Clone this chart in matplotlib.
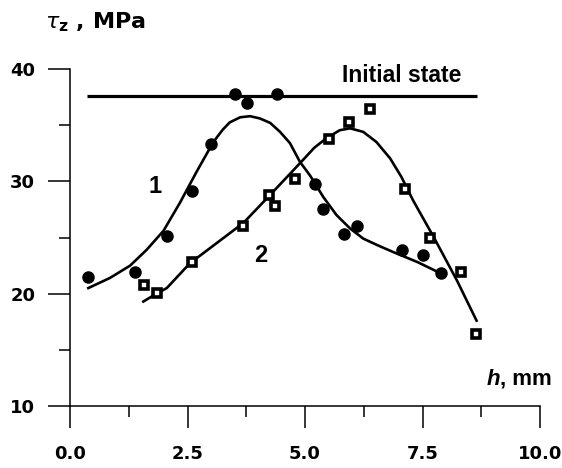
import matplotlib
matplotlib.use("Agg")
import matplotlib.pyplot as plt
from matplotlib.ticker import MultipleLocator, FixedLocator, FormatStrFormatter

# ---- data ----
h1 = [0.39, 1.38, 2.06, 2.59, 3.01, 3.51, 3.77, 4.40, 5.21, 5.39, 5.82, 6.10, 7.06, 7.50, 7.89]
tau1 = [21.5, 21.9, 25.1, 29.1, 33.3, 37.8, 37.0, 37.8, 29.8, 27.5, 25.3, 26.0, 23.9, 23.4, 21.8]

h2 = [1.57, 1.86, 2.59, 3.68, 4.24, 4.36, 4.79, 5.52, 5.94, 6.38, 7.13, 7.66, 8.32, 8.64]
tau2 = [20.8, 20.1, 22.85, 26.05, 28.8, 27.8, 30.2, 33.8, 35.25, 36.45, 29.3, 25.0, 21.9, 16.4]

curve1_h = [0.39, 0.85, 1.28, 1.63, 1.99, 2.34, 2.70, 3.05, 3.25, 3.40, 3.62, 3.83, 4.04,
            4.26, 4.47, 4.68, 4.89, 5.11, 5.39, 5.67, 5.96, 6.24, 6.55, 6.88, 7.40, 7.94]
curve1_tau = [20.5, 21.4, 22.5, 23.9, 25.6, 28.1, 30.9, 33.5, 34.6, 35.25, 35.7, 35.8, 35.6,
              35.2, 34.4, 33.4, 31.75, 30.5, 28.6, 27.0, 25.8, 24.9, 24.3, 23.7, 22.8, 21.7]

curve2_h = [1.56, 1.84, 2.06, 2.55, 3.12, 3.69, 4.26, 4.89, 5.20, 5.46, 5.74, 5.96, 6.24,
            6.52, 6.81, 7.05, 7.30, 7.73, 8.23, 8.65]
curve2_tau = [19.3, 20.0, 20.5, 22.7, 24.5, 26.3, 28.8, 31.6, 33.0, 33.85, 34.55, 34.72, 34.4,
              33.5, 32.05, 30.4, 28.3, 25.1, 21.2, 17.6]

initial_h = [0.36, 8.66]
initial_tau = [37.6, 37.6]

x_ticks = [0.0, 2.5, 5.0, 7.5, 10.0]
y_ticks = [10, 20, 30, 40]

# ---- figure ----
fig = plt.figure(figsize=(5.62, 4.68), dpi=100)
ax = fig.add_axes([70 / 562, 1 - 406 / 468, 470 / 562, 337 / 468])

ax.plot(initial_h, initial_tau, color="black", lw=2.3, solid_capstyle="butt")
ax.plot(curve1_h, curve1_tau, color="black", lw=1.9, solid_joinstyle="round")
ax.plot(curve2_h, curve2_tau, color="black", lw=1.9, solid_joinstyle="round")
ax.plot(h1, tau1, "o", color="black", ms=8, mec="black", zorder=4)
ax.plot(h2, tau2, "s", color="black", ms=5.6, mfc="white", mec="black", mew=2.6, zorder=4)

ax.set_xlim(0, 10)
ax.set_ylim(10, 40)
for s in ("top", "right"):
    ax.spines[s].set_visible(False)
for s in ("left", "bottom"):
    ax.spines[s].set_linewidth(1.1)

ax.xaxis.set_major_locator(FixedLocator(x_ticks))
ax.xaxis.set_minor_locator(MultipleLocator(1.25))
ax.yaxis.set_major_locator(FixedLocator(y_ticks))
ax.yaxis.set_minor_locator(MultipleLocator(5))
ax.xaxis.set_major_formatter(FormatStrFormatter("%.1f"))
ax.yaxis.set_major_formatter(FormatStrFormatter("%d"))

ax.tick_params(axis="both", which="major", direction="out", length=16, width=1.1,
               labelsize=13)
ax.tick_params(axis="x", which="major", pad=12)
ax.tick_params(axis="y", which="major", pad=9)
ax.tick_params(axis="both", which="minor", direction="out", length=8, width=1.1)
for lab in ax.get_xticklabels() + ax.get_yticklabels():
    lab.set_fontfamily("DejaVu Sans")
    lab.set_fontweight("bold")

lib = ["Liberation Sans", "DejaVu Sans"]
ax.text(5.78, 38.87, "Initial state", fontsize=16.5, fontweight="bold", family=lib,
        ha="left", va="baseline")
ax.text(1.81, 28.93, "1", fontsize=17, fontweight="bold", family=lib, ha="center", va="baseline")
ax.text(4.06, 22.82, "2", fontsize=17, fontweight="bold", family=lib, ha="center", va="baseline")

t_mm = ax.text(10.25, 11.87, ", mm", fontsize=16, fontweight="bold", family=lib,
               ha="right", va="baseline", clip_on=False)
ax.annotate("h", xy=(0, 0), xycoords=t_mm, fontsize=16, fontweight="bold", style="italic",
            family=lib, ha="right", va="bottom", annotation_clip=False)

plt.rcParams["mathtext.fontset"] = "dejavusans"
fig.text(45 / 562, 1 - 28.3 / 468, r"$\tau_{\mathbf{z}}$ , MPa", fontsize=16, fontweight="bold",
         family="DejaVu Sans", ha="left", va="baseline")

fig.savefig("out.png", dpi=100)
